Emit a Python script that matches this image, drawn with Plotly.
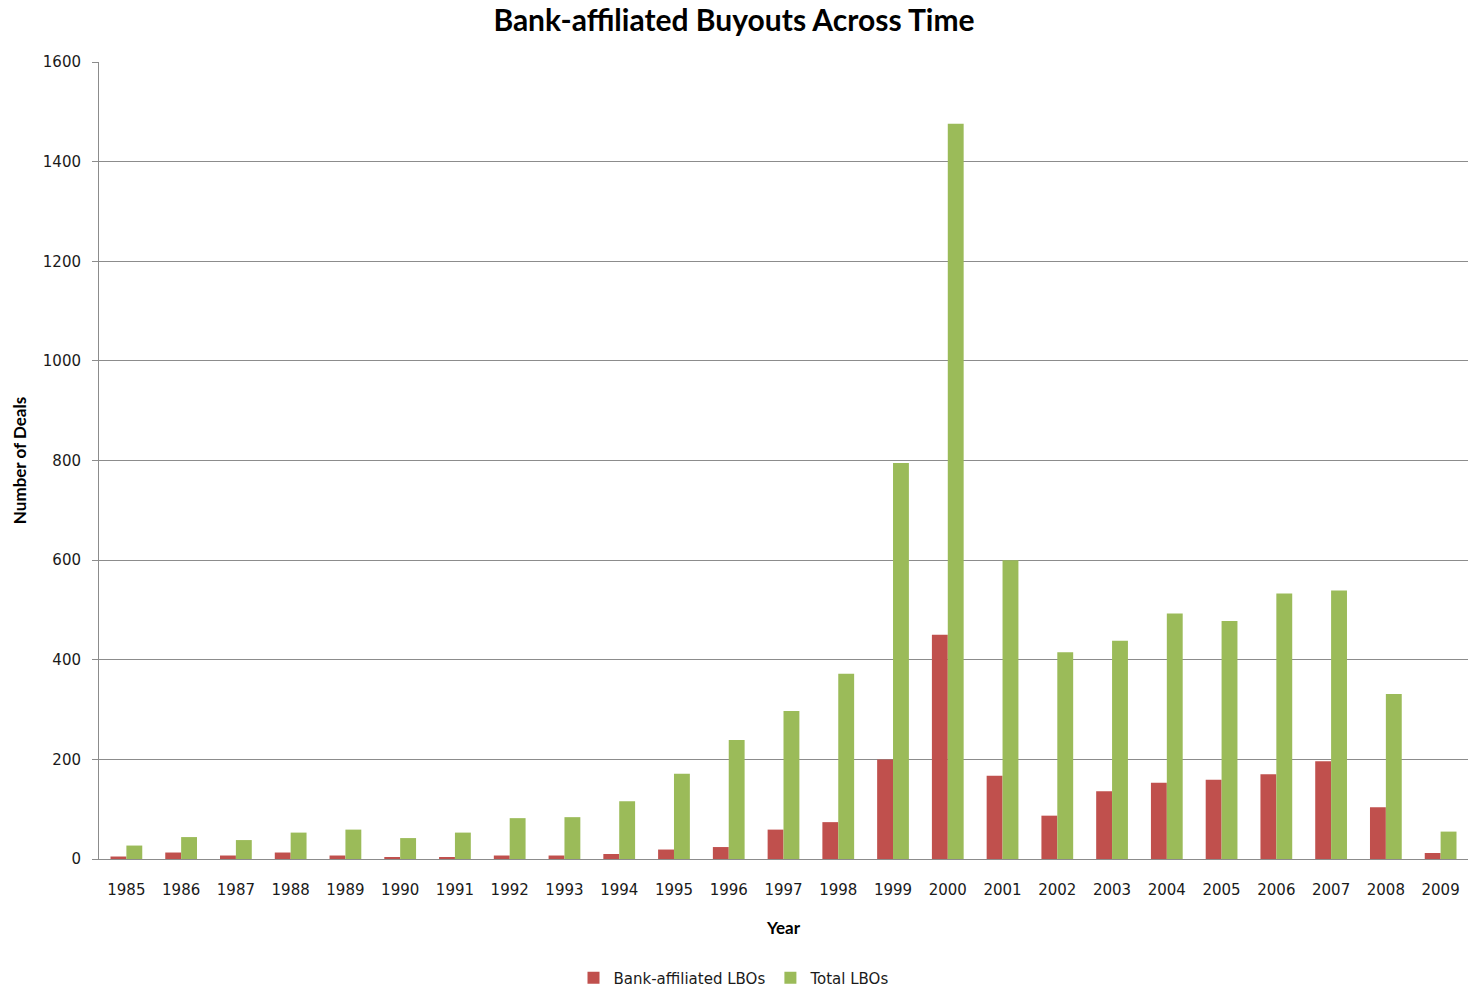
import plotly.graph_objects as go

years = [str(y) for y in range(1985, 2010)]
bank_affiliated = [5, 13, 7, 13, 7, 4, 4, 7, 7, 10, 19, 24, 59, 74, 200, 450, 167, 87, 136, 153, 159, 170, 196, 104, 12]
total_lbos = [27, 44, 38, 53, 59, 42, 53, 82, 84, 116, 171, 239, 297, 372, 795, 1476, 600, 415, 438, 493, 478, 533, 539, 331, 55]

RED = "#C0504D"
GREEN = "#9BBB59"
GRID = "#8C8C8C"

W, H = 1468, 992

fig = go.Figure()
fig.add_trace(go.Bar(name="Bank-affiliated LBOs", x=years, y=bank_affiliated,
                     marker=dict(color=RED, line=dict(width=0))))
fig.add_trace(go.Bar(name="Total LBOs", x=years, y=total_lbos,
                     marker=dict(color=GREEN, line=dict(width=0))))

tick_font = dict(family="DejaVu Sans", size=15, color="#1a1a1a")

fig.update_layout(
    width=W, height=H,
    margin=dict(l=99, r=0, t=62, b=133),
    paper_bgcolor="white", plot_bgcolor="white",
    barmode="group", bargap=0.42, bargroupgap=0,
    title=dict(text="<b>Bank-affiliated Buyouts Across Time</b>",
               x=0.5, xref="container", xanchor="center",
               y=1 - 20 / H, yref="container", yanchor="middle",
               font=dict(family="Lato", size=30, color="black")),
    showlegend=True,
    legend=dict(orientation="h", x=0.5, xref="container", xanchor="center",
                y=14 / H, yref="container", yanchor="middle",
                font=dict(family="DejaVu Sans", size=15, color="#1a1a1a"),
                traceorder="normal"),
    font=dict(family="DejaVu Sans"),
)

fig.update_xaxes(
    type="category",
    showgrid=False,
    showline=True, linecolor=GRID, linewidth=1,
    ticks="outside", ticklen=17, tickcolor="rgba(0,0,0,0)",
    tickfont=tick_font,
    title=dict(text="<b>Year</b>", font=dict(family="Lato", size=17, color="black"), standoff=24),
)

fig.update_yaxes(
    range=[0, 1600], dtick=200,
    showgrid=True, gridcolor=GRID, gridwidth=1,
    showline=True, linecolor=GRID, linewidth=1,
    ticks="outside", ticklen=6, tickcolor=GRID,
    ticklabelstandoff=8,
    tickfont=tick_font,
    zeroline=False,
    title=dict(text="<b>Number of Deals</b>", font=dict(family="Lato", size=17, color="black"), standoff=11),
)

fig.write_html("out.html")
